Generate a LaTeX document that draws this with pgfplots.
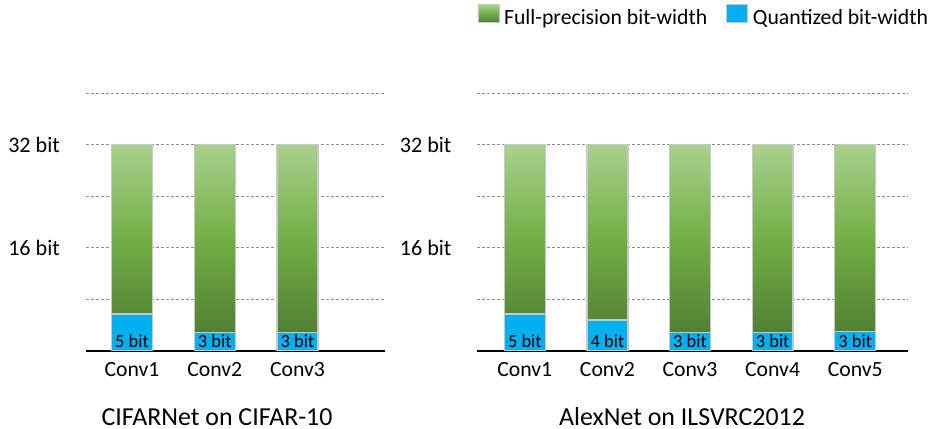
\documentclass[border=0pt]{standalone}
\usepackage{pgfplots}
\pgfplotsset{compat=1.18}
\usepackage{pgfplotstable}
\usepackage{fontspec}
\setmainfont{Carlito}
\definecolor{qblue}{RGB}{0,176,240}
\definecolor{gtop}{RGB}{169,209,142}
\definecolor{gmid}{RGB}{114,175,70}
\definecolor{gbot}{RGB}{82,128,52}
\definecolor{bordergray}{RGB}{200,200,200}
\definecolor{gridgray}{RGB}{140,140,140}

% x: layer index, q: quantized bar height, g: full-precision part (32 - q),
% ly: height of the label baseline, label: text in the blue bar
\pgfplotstableread[col sep=comma]{
x,q,g,ly,label
0,5.7,26.3,0.53,5 bit
1,2.86,29.14,0.53,3 bit
2,2.86,29.14,0.53,3 bit
}\leftdata

\pgfplotstableread[col sep=comma]{
x,q,g,ly,label
0,5.7,26.3,0.53,5 bit
1,4.77,27.23,0.53,4 bit
2,2.86,29.14,0.53,3 bit
3,2.86,29.14,0.53,3 bit
4,3.0,29.0,0.53,3 bit
}\rightdata

\pgfplotsset{
  barbase/.style={
    scale only axis, height=257.4bp,
    ymin=0, ymax=40, ytick={8,16,24,32,40}, yticklabels={,16 bit,,32 bit,},
    ymajorgrids, grid style={gridgray, line width=1bp, dash pattern=on 3bp off 2bp},
    ybar stacked, bar width=0.495,
    axis x line*=bottom, axis y line*=left,
    x axis line style={black, line width=1.6bp}, y axis line style={draw=none},
    major tick length=0pt,
    tick label style={font=\fontsize{21.8}{26}\selectfont, inner sep=0pt},
    xticklabel style={yshift=-12bp},
    yticklabel style={xshift=-25.7bp, font=\fontsize{22.2}{26}\selectfont},
  },
  labelaxis/.style={
    scale only axis, height=257.4bp, ymin=0, ymax=40, hide axis, clip=false,
  },
  qbar/.style={draw=bordergray, line width=1.3bp, fill=qblue},
  gbar/.style={draw=bordergray, line width=1.3bp, top color=gtop, bottom color=gbot, middle color=gmid},
  lbl/.style={only marks, mark=none, nodes near coords, point meta=explicit symbolic,
    nodes near coords style={font=\fontsize{18.5}{21}\selectfont, text=black, anchor=base, inner sep=0pt}},
}

\begin{document}
\begin{tikzpicture}
\path[use as bounding box] (0,0) rectangle (932bp,429bp);

\begin{axis}[barbase, at={(85.7bp,78.3bp)}, anchor=south west, width=299.3bp,
  xmin=-0.559, xmax=3.057, xtick={0,1,2},
  xticklabels={Conv1,Conv2,{\raisebox{-3bp}{Conv3}}}]
\addplot[qbar] table[x=x, y=q] {\leftdata};
\addplot[gbar] table[x=x, y=g] {\leftdata};
\end{axis}
\begin{axis}[labelaxis, at={(85.7bp,78.3bp)}, anchor=south west, width=299.3bp,
  xmin=-0.559, xmax=3.057]
\addplot[lbl] table[x=x, y=ly, meta=label] {\leftdata};
\end{axis}

\begin{axis}[barbase, at={(477.3bp,78.3bp)}, anchor=south west, width=430.2bp,
  xmin=-0.575, xmax=4.633, xtick={0,1,2,3,4},
  xticklabels={Conv1,Conv2,{\raisebox{-3bp}{Conv3}},{\raisebox{-1bp}{Conv4}},{\raisebox{-1bp}{Conv5}}},
  legend columns=2,
  legend style={at={(0,1.304)}, anchor=west, draw=none, fill=none, inner sep=0pt,
    nodes={inner sep=0pt},
    font=\fontsize{21.8}{26}\selectfont, column sep=5bp,
    /tikz/every even column/.append style={column sep=19bp}},
  legend cell align=left]
\addplot[qbar, forget plot] table[x=x, y=q] {\rightdata};
\addplot[gbar, forget plot] table[x=x, y=g] {\rightdata};
\addlegendimage{legend image code/.code={\draw[draw=bordergray, line width=0.6bp, top color=gtop, bottom color=gbot, middle color=gmid] (0bp,-5bp) rectangle (21bp,13bp);}}
\addlegendentry{Full-precision bit-width}
\addlegendimage{legend image code/.code={\draw[draw=bordergray, line width=0.6bp, fill=qblue] (0bp,-5bp) rectangle (21bp,13bp);}}
\addlegendentry{Quantized bit-width}
\end{axis}
\begin{axis}[labelaxis, at={(477.3bp,78.3bp)}, anchor=south west, width=430.2bp,
  xmin=-0.575, xmax=4.633]
\addplot[lbl] table[x=x, y=ly, meta=label] {\rightdata};
\end{axis}

\node[anchor=base, inner sep=0pt, font=\fontsize{26}{30}\selectfont] at (217bp,3.5bp) {CIFARNet on CIFAR-10};
\node[anchor=base, inner sep=0pt, font=\fontsize{26}{30}\selectfont] at (682bp,3.5bp) {AlexNet on ILSVRC2012};
\end{tikzpicture}
\end{document}
